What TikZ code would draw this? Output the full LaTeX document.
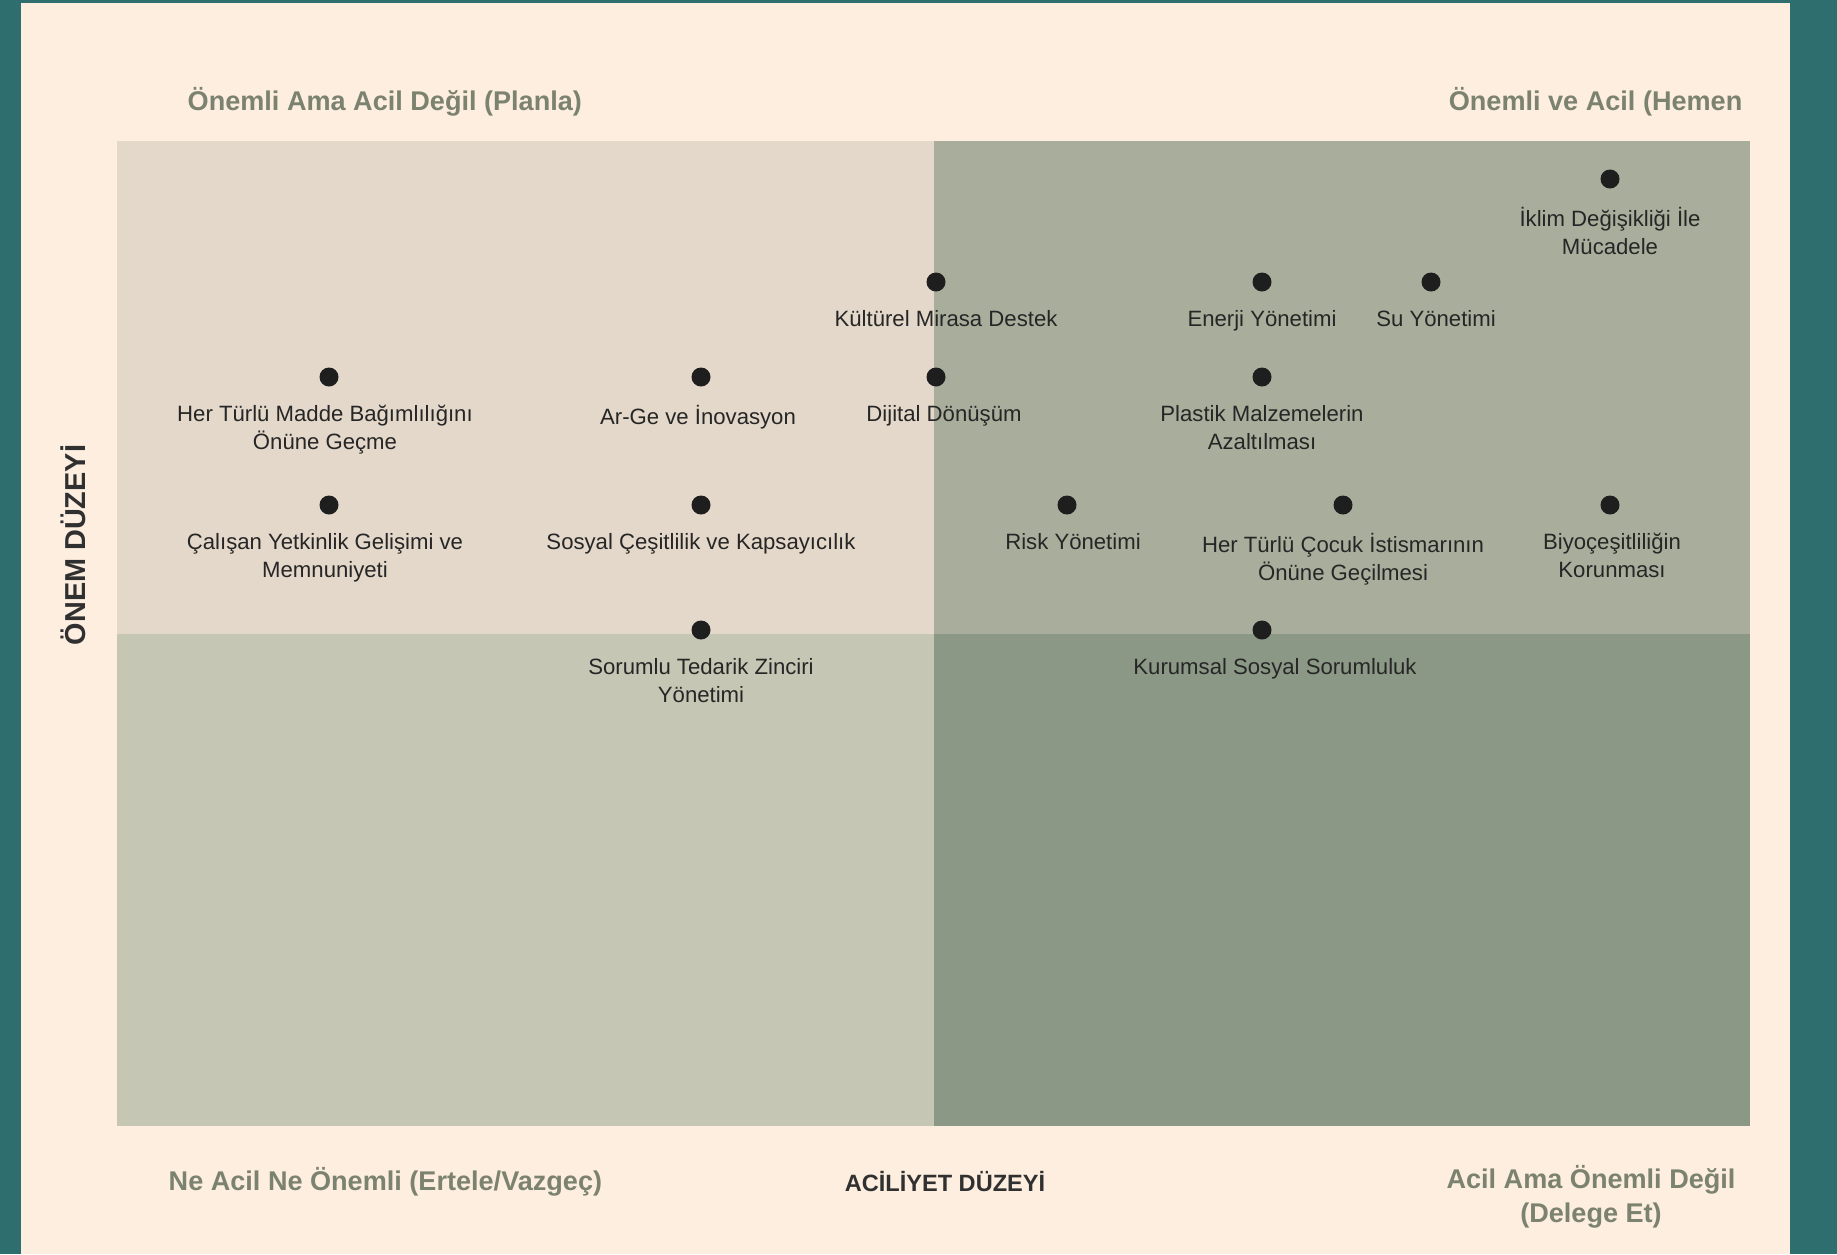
\documentclass[tikz,border=0pt]{standalone}
\usepackage{fontspec}
\setmainfont{Liberation Sans}
\usetikzlibrary{positioning}

\begin{document}
\begin{tikzpicture}[x=0.01cm,y=-0.01cm,
  dot/.style={circle,fill=dotcol,inner sep=0pt,minimum size=0.19cm},
  item/.style={font=\fontsize{6.3}{8}\selectfont,text=itemcol,align=center,inner sep=0pt},
  quadtitle/.style={font=\fontsize{7.7}{9.7}\selectfont\bfseries,text=titlecol,inner sep=0pt},
  axistitle/.style={font=\fontsize{6.7}{8}\selectfont\bfseries,text=axiscol,inner sep=0pt}]
\definecolor{framecol}{HTML}{2F6E6E}
\definecolor{papercol}{HTML}{FDEEE0}
\definecolor{qTL}{HTML}{E3D8CA}
\definecolor{qTR}{HTML}{A9AE9C}
\definecolor{qBL}{HTML}{C6C6B4}
\definecolor{qBR}{HTML}{8C9886}
\definecolor{dotcol}{HTML}{1E1E1E}
\definecolor{itemcol}{HTML}{262626}
\definecolor{titlecol}{HTML}{7C8270}
\definecolor{axiscol}{HTML}{303030}
% frame and paper
\fill[framecol] (0,0) rectangle (1837,1254);
\fill[papercol] (21,3) rectangle (1790,1254);
% the four quadrants
\fill[qTL] (117,141) rectangle (934,634);
\fill[qTR] (934,141) rectangle (1750,634);
\fill[qBL] (117,634) rectangle (934,1126);
\fill[qBR] (934,634) rectangle (1750,1126);
% topics
\foreach \x/\y/\s/\t [count=\i] in {
  1610/179/0/{İklim Değişikliği İle\\Mücadele},
  936/282/10/{Kültürel Mirasa Destek},
  1262/282/0/{Enerji Yönetimi},
  1431/282/5/{Su Yönetimi},
  329/377/-4/{Her Türlü Madde Bağımlılığını\\Önüne Geçme},
  701/377/-3/{Ar-Ge ve İnovasyon},
  936/377/8/{Dijital Dönüşüm},
  1262/377/0/{Plastik Malzemelerin\\Azaltılması},
  329/505/-4/{Çalışan Yetkinlik Gelişimi ve\\Memnuniyeti},
  701/505/0/{Sosyal Çeşitlilik ve Kapsayıcılık},
  1067/505/6/{Risk Yönetimi},
  1343/505/0/{Her Türlü Çocuk İstismarının\\Önüne Geçilmesi},
  1610/505/2/{Biyoçeşitliliğin\\Korunması},
  701/630/0/{Sorumlu Tedarik Zinciri\\Yönetimi},
  1262/630/13/{Kurumsal Sosyal Sorumluluk}}
{
  \node[dot] (d\i) at (\x,\y) {};
  \node[item, below=5pt of d\i, xshift=\s*0.2845pt] (l\i) {\t};
}
% quadrant titles
\node[quadtitle, anchor=west] (tTL) at (187,102) {Önemli Ama Acil Değil (Planla)};
\node[quadtitle, anchor=east] (tTR) at (1743,102) {Önemli ve Acil (Hemen};
\node[quadtitle, anchor=west] (tBL) at (168,1182) {Ne Acil Ne Önemli (Ertele/Vazgeç)};
\node[quadtitle, align=center] (tBR) at (1591,1197) {Acil Ama Önemli Değil\\(Delege Et)};
% axes
\node[axistitle] (xaxis) at (945,1182) {ACİLİYET DÜZEYİ};
\node[axistitle, font=\fontsize{8.2}{10}\selectfont\bfseries, rotate=90] (yaxis) at (73,545) {ÖNEM DÜZEYİ};
\end{tikzpicture}
\end{document}
